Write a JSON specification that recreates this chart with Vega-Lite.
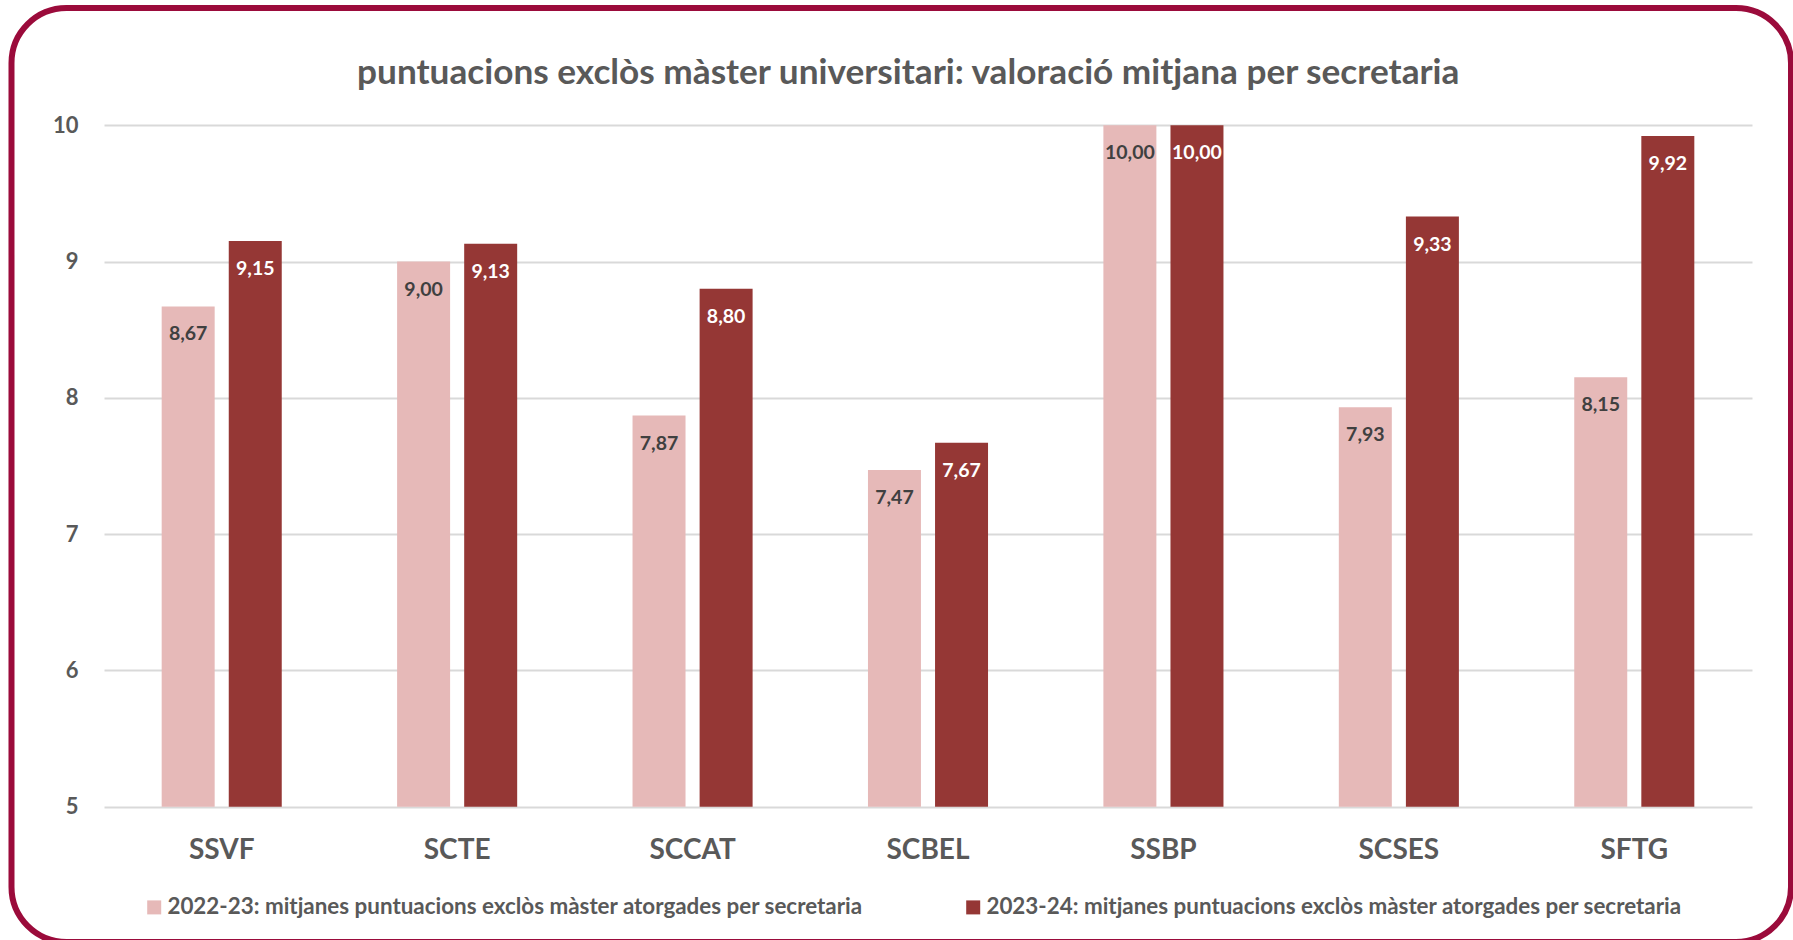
{
  "$schema": "https://vega.github.io/schema/vega-lite/v6.json",
  "autosize": "none",
  "width": 1779.5,
  "height": 934,
  "padding": {"left": 11.5, "top": 8, "right": 2, "bottom": 0},
  "background": "white",
  "title": {
    "text": "puntuacions exclòs màster universitari: valoració mitjana per secretaria",
    "anchor": "middle",
    "font": "Lato",
    "fontSize": 35.2,
    "fontWeight": "bold",
    "color": "#595959",
    "baseline": "alphabetic",
    "offset": -111.5,
    "dx": 7
  },
  "data": {
    "values": [
      {"secretaria": "SSVF", "curs": "2022-23", "valor": 8.67},
      {"secretaria": "SSVF", "curs": "2023-24", "valor": 9.15},
      {"secretaria": "SCTE", "curs": "2022-23", "valor": 9.00},
      {"secretaria": "SCTE", "curs": "2023-24", "valor": 9.13},
      {"secretaria": "SCCAT", "curs": "2022-23", "valor": 7.87},
      {"secretaria": "SCCAT", "curs": "2023-24", "valor": 8.80},
      {"secretaria": "SCBEL", "curs": "2022-23", "valor": 7.47},
      {"secretaria": "SCBEL", "curs": "2023-24", "valor": 7.67},
      {"secretaria": "SSBP", "curs": "2022-23", "valor": 10.00},
      {"secretaria": "SSBP", "curs": "2023-24", "valor": 10.00},
      {"secretaria": "SCSES", "curs": "2022-23", "valor": 7.93},
      {"secretaria": "SCSES", "curs": "2023-24", "valor": 9.33},
      {"secretaria": "SFTG", "curs": "2022-23", "valor": 8.15},
      {"secretaria": "SFTG", "curs": "2023-24", "valor": 9.92}
    ]
  },
  "encoding": {
    "x": {
      "field": "secretaria",
      "type": "nominal",
      "sort": ["SSVF", "SCTE", "SCCAT", "SCBEL", "SSBP", "SCSES", "SFTG"],
      "scale": {"range": [92.5, 1740.5], "paddingInner": 0.49, "paddingOuter": 0.245},
      "axis": {
        "title": null,
        "orient": "bottom",
        "offset": -135.3,
        "domain": false,
        "ticks": false,
        "grid": false,
        "labelAngle": 0,
        "labelFont": "Lato",
        "labelFontSize": 28,
        "labelFontWeight": "bold",
        "labelColor": "#595959",
        "labelPadding": 29.5
      }
    },
    "xOffset": {
      "field": "curs",
      "type": "nominal",
      "scale": {"paddingInner": 0.21, "paddingOuter": 0}
    },
    "y": {
      "field": "valor",
      "type": "quantitative",
      "scale": {"domain": [5, 10], "zero": false, "nice": false, "range": [798.7, 117.2]},
      "axis": {
        "title": null,
        "orient": "left",
        "offset": -92.5,
        "values": [5, 6, 7, 8, 9, 10],
        "format": "d",
        "domain": false,
        "ticks": false,
        "grid": true,
        "gridColor": "#d9d9d9",
        "gridWidth": 2,
        "labelFont": "Lato",
        "labelFontSize": 22,
        "labelFontWeight": "bold",
        "labelColor": "#595959",
        "labelPadding": 26
      }
    }
  },
  "layer": [
    {
      "mark": {"type": "bar"},
      "encoding": {
        "y2": {"datum": 5},
        "color": {
          "field": "curs",
          "type": "nominal",
          "scale": {"domain": ["2022-23", "2023-24"], "range": ["#e6b9b8", "#953735"]},
          "legend": {
            "orient": "none",
            "legendX": 131.5,
            "legendY": 888,
            "direction": "horizontal",
            "title": null,
            "symbolType": "square",
            "symbolSize": 196,
            "symbolStrokeWidth": 0,
            "symbolOpacity": 1,
            "labelFont": "Lato",
            "labelFontSize": 22.4,
            "labelFontWeight": "bold",
            "labelColor": "#595959",
            "labelLimit": 1000,
            "labelOffset": 2,
            "columnPadding": 98,
            "labelExpr": "datum.label + ': mitjanes puntuacions exclòs màster atorgades per secretaria'"
          }
        }
      }
    },
    {
      "mark": {"type": "text", "baseline": "middle", "dy": 28, "font": "Lato", "fontSize": 19.5, "fontWeight": "bold"},
      "encoding": {
        "text": {"field": "valor", "type": "quantitative", "format": ".2f"},
        "color": {"condition": {"test": "datum.curs == '2023-24'", "value": "#ffffff"}, "value": "#404040"}
      }
    }
  ],
  "config": {
    "locale": {"number": {"decimal": ",", "thousands": ".", "grouping": [3], "currency": ["", " €"]}},
    "view": {"stroke": "#9b0b3b", "strokeWidth": 6, "cornerRadius": 55, "fill": "white"}
  }
}
